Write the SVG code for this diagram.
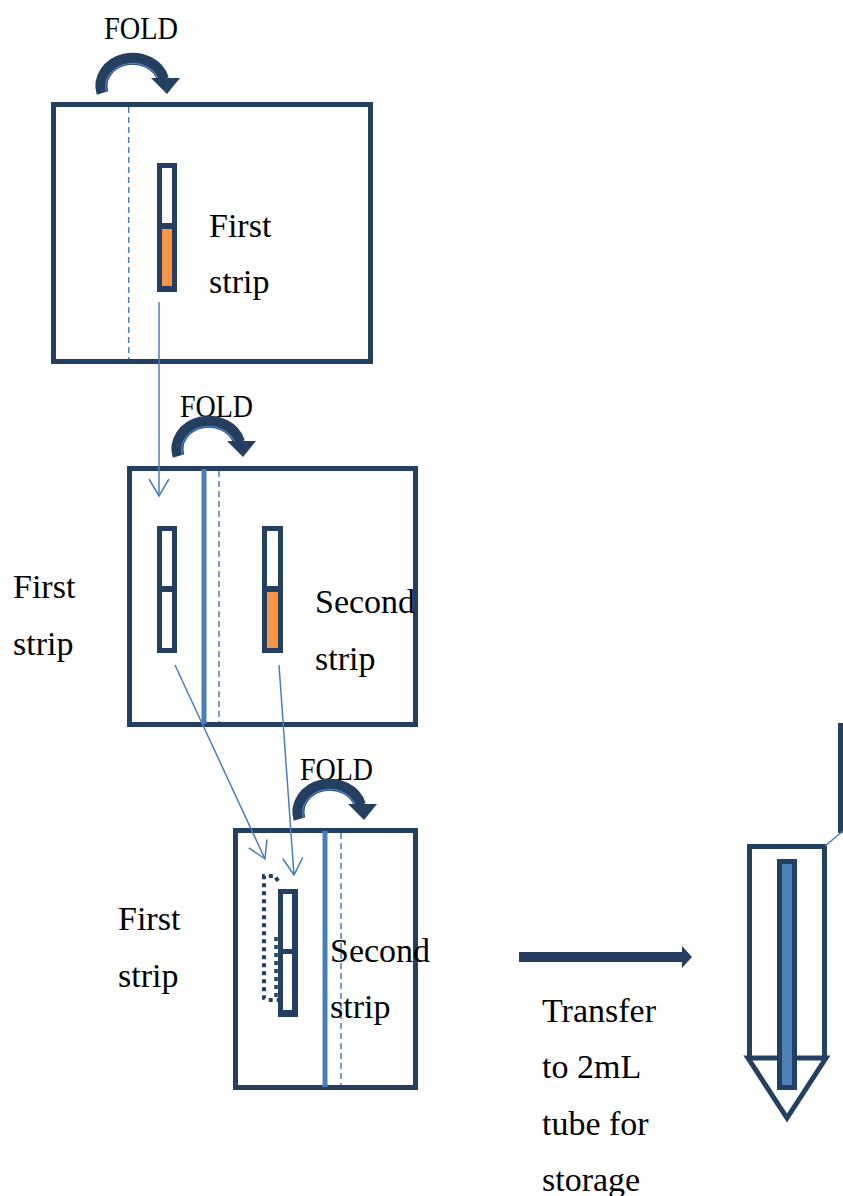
<svg xmlns="http://www.w3.org/2000/svg" width="843" height="1196" viewBox="0 0 843 1196">
<style>
.box{fill:#fff;stroke:#243f60;stroke-width:5}
.txt{font-family:"Liberation Serif","DejaVu Serif",serif;font-size:34px;fill:#000}
.fold{font-family:"Liberation Serif","DejaVu Serif",serif;font-size:32px;fill:#000}
.dash{stroke:#4a7ebb;stroke-width:1.5;stroke-dasharray:6 4;fill:none}
.solid{stroke:#4a7ebb;stroke-width:5;fill:none}
.conn{stroke:#4a7ebb;stroke-width:1.5;fill:none}
.dark{fill:#243f60}
.white{fill:#fff}
.orange{fill:#f79646}
</style>
<defs>
<marker id="chev" viewBox="-20 -12 22 24" refX="0" refY="0" markerWidth="22" markerHeight="24" markerUnits="userSpaceOnUse" orient="auto" overflow="visible">
<path d="M-17,-10 L0,0 L-17,10" fill="none" stroke="#4a7ebb" stroke-width="1.5"/>
</marker>
<g id="foldArrow">
<path d="M102.5,93 A31,27 0 0 1 163,79" fill="none" stroke="#243f60" stroke-width="12"/>
<path d="M106.5,92 A27,23 0 0 1 159,81" fill="none" stroke="#4f81bd" stroke-width="1.3"/>
<polygon points="151,78 180,78 167,94" fill="#243f60"/>
</g>
</defs>

<g id="step1">
<rect class="box" x="53.5" y="104.5" width="317" height="257"/>
<line class="dash" x1="128.7" y1="107" x2="128.7" y2="359"/>
<rect class="dark" x="157" y="163" width="20" height="129"/>
<rect class="white" x="162" y="168" width="10" height="55"/>
<rect class="orange" x="162" y="229" width="10" height="57"/>
<text class="txt" x="209" y="237">First</text>
<text class="txt" x="209" y="293">strip</text>
<text class="fold" x="104" y="39" textLength="74" lengthAdjust="spacingAndGlyphs">FOLD</text>
<use href="#foldArrow"/>
</g>

<g id="step2">
<rect class="box" x="129.5" y="468.5" width="286" height="256"/>
<line class="solid" x1="204" y1="469" x2="204" y2="724"/>
<line class="dash" x1="219" y1="471" x2="219" y2="722"/>
<rect class="dark" x="157" y="526" width="20" height="127"/>
<rect class="white" x="162" y="531" width="10" height="55"/>
<rect class="white" x="162" y="592" width="10" height="56"/>
<rect class="dark" x="262" y="526" width="21" height="127"/>
<rect class="white" x="267" y="531" width="11" height="55"/>
<rect class="orange" x="267" y="592" width="11" height="56"/>
<text class="txt" x="13" y="598">First</text>
<text class="txt" x="13" y="655">strip</text>
<text class="txt" x="315" y="613">Second</text>
<text class="txt" x="315" y="670">strip</text>
<text class="fold" x="180" y="417" textLength="73" lengthAdjust="spacingAndGlyphs">FOLD</text>
<use href="#foldArrow" transform="translate(76,363)"/>
</g>

<g id="step3">
<rect class="box" x="235.5" y="830.5" width="180" height="257"/>
<line class="solid" x1="325" y1="831" x2="325" y2="1087"/>
<line class="dash" x1="341" y1="833" x2="341" y2="1085"/>
<path d="M278,881 L275,876 L264,876 L264,998 L268,1000 L278,1000" fill="none" stroke="#243f60" stroke-width="4" stroke-dasharray="4 4"/>
<path d="M276,937 L276,1000" fill="none" stroke="#243f60" stroke-width="3.5" stroke-dasharray="4 4"/>
<rect class="dark" x="278" y="889" width="20" height="128"/>
<rect class="white" x="283" y="894" width="9" height="55"/>
<rect class="white" x="283" y="954" width="9" height="56"/>
<text class="txt" x="118" y="930">First</text>
<text class="txt" x="118" y="987">strip</text>
<text class="txt" x="330" y="962">Second</text>
<text class="txt" x="330" y="1018">strip</text>
<text class="fold" x="300" y="780" textLength="73" lengthAdjust="spacingAndGlyphs">FOLD</text>
<use href="#foldArrow" transform="translate(197,726)"/>
</g>

<g id="transfer">
<rect class="dark" x="519" y="952" width="164" height="10"/>
<polygon class="dark" points="682,946 692,957 682,968"/>
<text class="txt" x="542" y="1022">Transfer</text>
<text class="txt" x="542" y="1078">to 2mL</text>
<text class="txt" x="542" y="1135">tube for</text>
<text class="txt" x="542" y="1191">storage</text>
</g>

<g id="tube">
<rect class="box" x="749.5" y="846.5" width="75" height="212"/>
<polygon points="748,1058 826,1058 787,1118" fill="#fff" stroke="#243f60" stroke-width="5"/>
<rect x="779.5" y="861.5" width="15" height="226" fill="#4f81bd" stroke="#243f60" stroke-width="5"/>
</g>

<g id="partialBox">
<rect class="box" x="840.5" y="725.5" width="40" height="105"/>
</g>

<g id="connectors">
<line class="conn" x1="159" y1="302" x2="159" y2="496" marker-end="url(#chev)"/>
<line class="conn" x1="175" y1="665" x2="265" y2="859" marker-end="url(#chev)"/>
<line class="conn" x1="279" y1="665" x2="294" y2="875" marker-end="url(#chev)"/>
<line class="conn" x1="825" y1="846" x2="843" y2="831"/>
</g>
</svg>
